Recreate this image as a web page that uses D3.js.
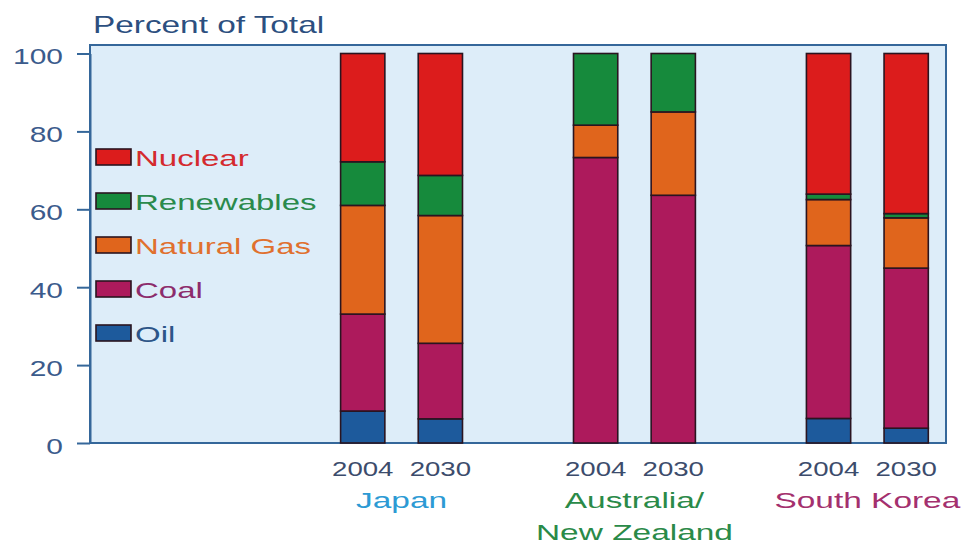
<!DOCTYPE html>
<html>
<head>
<meta charset="utf-8">
<script src="https://cdn.jsdelivr.net/npm/d3@7"></script>
<style>
  html, body { margin: 0; padding: 0; background: #ffffff; }
  svg { display: block; font-family: "Liberation Sans", Arial, sans-serif; }
</style>
</head>
<body>
<svg id="chart" width="964" height="548"></svg>
<script>
// Electricity generation by fuel, share of total (%)
const regions = ["Japan", "Australia/New Zealand", "South Korea"];
const years = ["2004", "2030"];
const fuels = ["Oil", "Coal", "Natural Gas", "Renewables", "Nuclear"];

// one value per bar: Japan 2004, Japan 2030, ANZ 2004, ANZ 2030, Korea 2004, Korea 2030
const oil        = [8.2, 6.2, 0, 0, 6.3, 3.8];
const coal       = [24.9, 19.4, 73.3, 63.6, 44.4, 41.1];
const naturalGas = [27.9, 32.8, 8.3, 21.4, 11.8, 12.9];
const renewables = [11.2, 10.3, 18.4, 15.0, 1.4, 1.1];
const nuclear    = [27.8, 31.3, 0, 0, 36.1, 41.1];

const yTicks = [0, 20, 40, 60, 80, 100];

const fuelColors = {
  "Oil": "#1d5a9c",
  "Coal": "#ad1a5c",
  "Natural Gas": "#e0651c",
  "Renewables": "#168a3c",
  "Nuclear": "#dc1c1c"
};
const legendTextColors = {
  "Oil": "#2c5588",
  "Coal": "#8c2c6c",
  "Natural Gas": "#e0702e",
  "Renewables": "#2a8a4c",
  "Nuclear": "#d42a2e"
};
const regionColors = ["#2c9ad4", "#2a8a48", "#a4306e"];

// slot layout: 11 equal slots across the frame, bars in slots 3,4 / 6,7 / 9,10
const barSlots = [3, 4, 6, 7, 9, 10];

const rows = barSlots.map((s, i) => ({
  slot: s,
  region: regions[Math.floor(i / 2)],
  year: years[i % 2],
  "Oil": oil[i], "Coal": coal[i], "Natural Gas": naturalGas[i],
  "Renewables": renewables[i], "Nuclear": nuclear[i]
}));

const svg = d3.select("#chart");
const frameLeft = 90, frameRight = 946, frameTop = 45;

const y = d3.scaleLinear().domain([0, 100]).range([443, 53.5]);
const x = d3.scaleBand().domain(d3.range(11)).range([frameLeft + 1, frameRight - 1]).paddingInner(0.43).paddingOuter(0.215);

// wide lettering: glyphs are drawn stretched horizontally about their anchor
function wideText(sel, px, py, sx) {
  sel.attr("x", 0).attr("y", 0)
    .attr("transform", `translate(${px},${py}) scale(${sx},1)`);
}

// plot background and frame
svg.append("rect")
  .attr("x", frameLeft).attr("y", frameTop)
  .attr("width", frameRight - frameLeft).attr("height", y(0) - frameTop)
  .attr("fill", "#ddedf9")
  .attr("stroke", "#35679a").attr("stroke-width", 2);

// axis title
svg.append("text")
  .attr("fill", "#2c4f80").attr("font-size", 24)
  .text("Percent of Total")
  .call(wideText, 93, 33, 1.39);

// y axis
const yAxis = d3.axisLeft(y).tickValues(yTicks).tickSize(13).tickPadding(12).tickSizeOuter(0);
const gy = svg.append("g").attr("transform", `translate(${frameLeft},0)`).call(yAxis);
gy.select(".domain").attr("stroke", "#35679a").attr("stroke-width", 2);
gy.selectAll(".tick line").attr("stroke", "#35679a").attr("stroke-width", 2);
gy.selectAll(".tick text")
  .attr("fill", "#3b5b8c").attr("font-size", 22)
  .attr("font-family", "Liberation Sans, Arial, sans-serif")
  .attr("dy", "0.47em")
  .call(wideText, -27, 0, 1.36);

// stacked bars
const stack = d3.stack().keys(fuels);
const series = stack(rows);

svg.append("g").selectAll("g")
  .data(series)
  .join("g")
  .attr("fill", d => fuelColors[d.key])
  .selectAll("rect")
  .data(d => d.filter(p => p[1] - p[0] > 0))
  .join("rect")
  .attr("x", d => x(d.data.slot))
  .attr("width", x.bandwidth())
  .attr("y", d => y(d[1]))
  .attr("height", d => y(d[0]) - y(d[1]))
  .attr("stroke", "#2a1420")
  .attr("stroke-width", 1.6);

// year labels under each bar
svg.append("g").selectAll("text")
  .data(rows)
  .join("text")
  .attr("text-anchor", "middle")
  .attr("fill", "#3c4c6c").attr("font-size", 20)
  .text(d => d.year)
  .each(function (d) {
    d3.select(this).call(wideText, x(d.slot) + x.bandwidth() / 2, 476, 1.38);
  });

// region labels
const regionLines = [["Japan"], ["Australia/", "New Zealand"], ["South Korea"]];
regions.forEach((r, i) => {
  const cx = (x(barSlots[2 * i]) + x(barSlots[2 * i + 1]) + x.bandwidth()) / 2;
  regionLines[i].forEach((line, j) => {
    svg.append("text")
      .attr("text-anchor", "middle")
      .attr("fill", regionColors[i]).attr("font-size", 22)
      .text(line)
      .call(wideText, cx, 508 + j * 32, 1.52);
  });
});

// legend
const legendOrder = fuels.slice().reverse();
const lg = svg.append("g").selectAll("g")
  .data(legendOrder)
  .join("g")
  .attr("transform", (d, i) => `translate(96,${149 + i * 44})`);
lg.append("rect")
  .attr("width", 35).attr("height", 16)
  .attr("fill", d => fuelColors[d])
  .attr("stroke", "#2a1420").attr("stroke-width", 1.6);
lg.append("text")
  .attr("fill", d => legendTextColors[d]).attr("font-size", 22)
  .text(d => d)
  .call(wideText, 39, 17, 1.5);
</script>
</body>
</html>
